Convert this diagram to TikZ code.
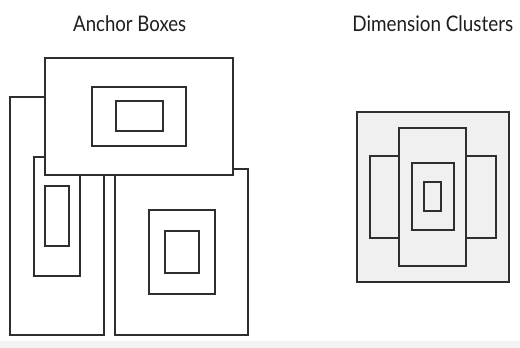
\documentclass[tikz,border=0pt]{standalone}
\usepackage{fontspec}
\setmainfont{Lato}
\usepackage{graphicx}
\definecolor{edge}{HTML}{2E2E2E}
\definecolor{panel}{HTML}{F0F0F0}
\definecolor{band}{HTML}{F3F3F3}
\definecolor{ink}{HTML}{1E1E1E}
\begin{document}
\begin{tikzpicture}[x=1pt,y=-1pt,
  box/.style={draw=edge,line width=1.8pt,fill=white},
  cbox/.style={draw=edge,line width=1.8pt,fill=panel},
  title/.style={anchor=base,inner sep=0pt,font=\fontsize{21.5}{26}\selectfont,text=ink}]
\useasboundingbox (0,0) rectangle (520,348);
\fill[white] (0,0) rectangle (520,348);
\fill[band] (0,341) rectangle (520,348);
% titles
\node[title] (t1) at (129.7,31) {\resizebox{113pt}{\height}{Anchor Boxes}};
\node[title] (t2) at (432.8,31) {\resizebox{161pt}{\height}{Dimension Clusters}};
% left tall anchor
\draw[box] (10.3,97.3) rectangle (103.7,334.7);
\draw[box] (33.7,156.7) rectangle (80.3,275.7);
\draw[box] (45.3,186.3) rectangle (69,246.3);
% right anchor
\draw[box] (115.3,168.7) rectangle (248,335);
\draw[box] (149,210) rectangle (215,294.3);
\draw[box] (165,231) rectangle (198.7,273.3);
% top wide anchor
\draw[box] (45.3,57.7) rectangle (233.3,174.7);
\draw[box] (92.3,87.3) rectangle (186.3,146);
\draw[box] (115.7,101.3) rectangle (163,131.3);
% dimension clusters
\draw[cbox] (356.7,112.3) rectangle (508.7,281.7);
\draw[cbox] (369.7,155.7) rectangle (495.7,237.7);
\draw[cbox] (399,127.7) rectangle (466.3,265.7);
\draw[cbox] (411.7,163) rectangle (454,230.3);
\draw[cbox] (424.3,182) rectangle (441,211);
\end{tikzpicture}
\end{document}
